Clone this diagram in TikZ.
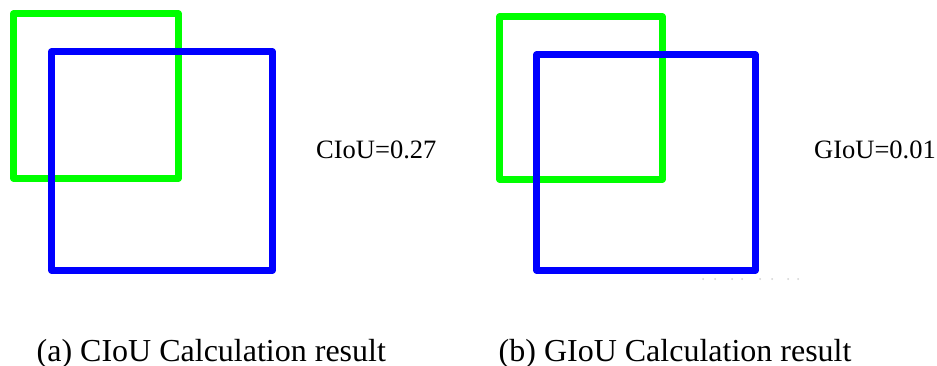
\documentclass[tikz,border=0pt]{standalone}
\usepackage{fontspec}
\setmainfont{Liberation Serif}

\begin{document}
\begin{tikzpicture}[x=1pt, y=-1pt,
    gtbox/.style={draw=green, line width=6.5pt, line join=round},
    predbox/.style={draw=blue, line width=6.5pt, line join=round},
    score/.style={inner sep=0pt, anchor=base west, font=\fontsize{26.5}{30}\selectfont},
    caption/.style={inner sep=0pt, anchor=base west, font=\fontsize{32}{38}\selectfont}]
  \useasboundingbox (0,0) rectangle (937,365);

  % Boxes (a)
  \draw[gtbox] (13.5,13.5) rectangle (178.5,178.5);
  \draw[predbox] (51.5,51.5) rectangle (272.5,270.5);
  \node[score] (ciou) at (316,158) {CIoU=0.27};

  % Boxes (b)
  \draw[gtbox] (499.5,16.5) rectangle (662.5,179.5);
  \draw[predbox] (536.5,54.5) rectangle (755.5,270.5);
  \node[score] (giou) at (814,158) {GIoU=0.01};

  % Reste
  \foreach \x in {703,715,732,742,760,772,788,798}
    \fill[gray!35] (\x,279) circle (1);

  % Captions
  \node[caption] (capa) at (36.5,361) {(a) CIoU Calculation result};
  \node[caption] (capb) at (498.5,361) {(b) GIoU Calculation result};
\end{tikzpicture}
\end{document}
